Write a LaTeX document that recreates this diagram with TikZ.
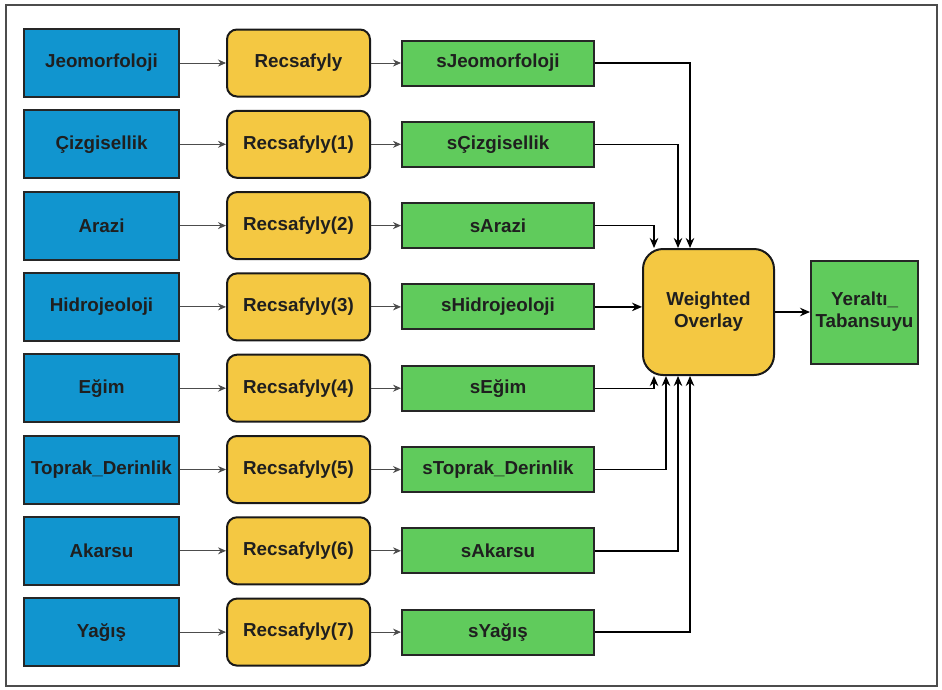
\documentclass[tikz,border=0pt]{standalone}
\usepackage{fontspec}
\setmainfont{Liberation Sans}
\usetikzlibrary{arrows.meta,positioning}

\definecolor{layerblue}{HTML}{1195CF}
\definecolor{recyellow}{HTML}{F4C842}
\definecolor{outgreen}{HTML}{60CB5C}

\begin{document}
\begin{tikzpicture}[x=1pt, y=1pt,
  every node/.style={font=\fontsize{18.8}{22}\selectfont\bfseries, text=black!88, inner sep=2pt},
  inbox/.style={rectangle, draw=black!85, line width=2pt, fill=layerblue, minimum width=155pt, minimum height=68pt},
  recbox/.style={rectangle, rounded corners=10pt, draw=black!90, line width=2pt, fill=recyellow, minimum width=143pt, minimum height=67pt},
  outbox/.style={rectangle, draw=black!85, line width=2pt, fill=outgreen, minimum width=192pt, minimum height=45pt},
  wobox/.style={rectangle, rounded corners=20pt, draw=black!90, line width=2pt, fill=recyellow, minimum width=131pt, minimum height=126pt, align=center},
  arrow/.style={draw=black!70, line width=0.9pt, -{Stealth[length=8pt, width=7pt]}},
  feed/.style={draw=black, line width=1.4pt, -{Stealth[length=10pt, width=8.5pt]}}
]
  \useasboundingbox (0,0) rectangle (942,-689);
  \draw[black!70, line width=1.5pt] (6,-5) rectangle (937,-686);

  % input layers
  \node[inbox] (jeo) at (101.5,-63) {Jeomorfoloji};
  \node[inbox, below=11.3pt of jeo] (cizgi) {Çizgisellik};
  \node[inbox, below=11.3pt of cizgi] (arazi) {Arazi};
  \node[inbox, below=11.3pt of arazi] (hidro) {Hidrojeoloji};
  \node[inbox, below=11.3pt of hidro] (egim) {Eğim};
  \node[inbox, below=11.3pt of egim] (toprak) {Toprak\_Derinlik};
  \node[inbox, below=11.3pt of toprak] (akarsu) {Akarsu};
  \node[inbox, below=11.3pt of akarsu] (yagis) {Yağış};

  % reclassify
  \node[recbox, right=46pt of jeo] (rec0) {Recsafyly};
  \node[recbox, right=46pt of cizgi] (rec1) {Recsafyly(1)};
  \node[recbox, right=46pt of arazi] (rec2) {Recsafyly(2)};
  \node[recbox, right=46pt of hidro] (rec3) {Recsafyly(3)};
  \node[recbox, right=46pt of egim] (rec4) {Recsafyly(4)};
  \node[recbox, right=46pt of toprak] (rec5) {Recsafyly(5)};
  \node[recbox, right=46pt of akarsu] (rec6) {Recsafyly(6)};
  \node[recbox, right=46pt of yagis] (rec7) {Recsafyly(7)};

  % reclassified outputs
  \node[outbox, right=30pt of rec0] (sjeo) {sJeomorfoloji};
  \node[outbox, right=30pt of rec1] (scizgi) {sÇizgisellik};
  \node[outbox, right=30pt of rec2] (sarazi) {sArazi};
  \node[outbox, right=30pt of rec3] (shidro) {sHidrojeoloji};
  \node[outbox, right=30pt of rec4] (segim) {sEğim};
  \node[outbox, right=30pt of rec5] (stoprak) {sToprak\_Derinlik};
  \node[outbox, right=30pt of rec6] (sakarsu) {sAkarsu};
  \node[outbox, right=30pt of rec7] (syagis) {sYağış};

  \node[wobox] (overlay) at (708.5,-312) {Weighted\\Overlay};
  \node[outbox, minimum width=107pt, minimum height=103pt, align=center, right=35pt of overlay] (result) {Yeraltı\_\\Tabansuyu};

  \draw[arrow] (jeo) -- (rec0);
  \draw[arrow] (cizgi) -- (rec1);
  \draw[arrow] (arazi) -- (rec2);
  \draw[arrow] (hidro) -- (rec3);
  \draw[arrow] (egim) -- (rec4);
  \draw[arrow] (toprak) -- (rec5);
  \draw[arrow] (akarsu) -- (rec6);
  \draw[arrow] (yagis) -- (rec7);

  \draw[arrow] (rec0) -- (sjeo);
  \draw[arrow] (rec1) -- (scizgi);
  \draw[arrow] (rec2) -- (sarazi);
  \draw[arrow] (rec3) -- (shidro);
  \draw[arrow] (rec4) -- (segim);
  \draw[arrow] (rec5) -- (stoprak);
  \draw[arrow] (rec6) -- (sakarsu);
  \draw[arrow] (rec7) -- (syagis);

  \draw[feed] (sjeo.east) -| ([xshift=-18.5pt]overlay.north);
  \draw[feed] (scizgi.east) -| ([xshift=-30.5pt]overlay.north);
  \draw[feed] (sarazi.east) -| ([xshift=-54.5pt]overlay.north);
  \draw[feed] (shidro.east) -- (shidro.east -| overlay.west);
  \draw[feed] (segim.east) -| ([xshift=-54.5pt]overlay.south);
  \draw[feed] (stoprak.east) -| ([xshift=-42.5pt]overlay.south);
  \draw[feed] (sakarsu.east) -| ([xshift=-30.5pt]overlay.south);
  \draw[feed] (syagis.east) -| ([xshift=-18.5pt]overlay.south);
  \draw[feed] (overlay) -- (result);
\end{tikzpicture}
\end{document}
